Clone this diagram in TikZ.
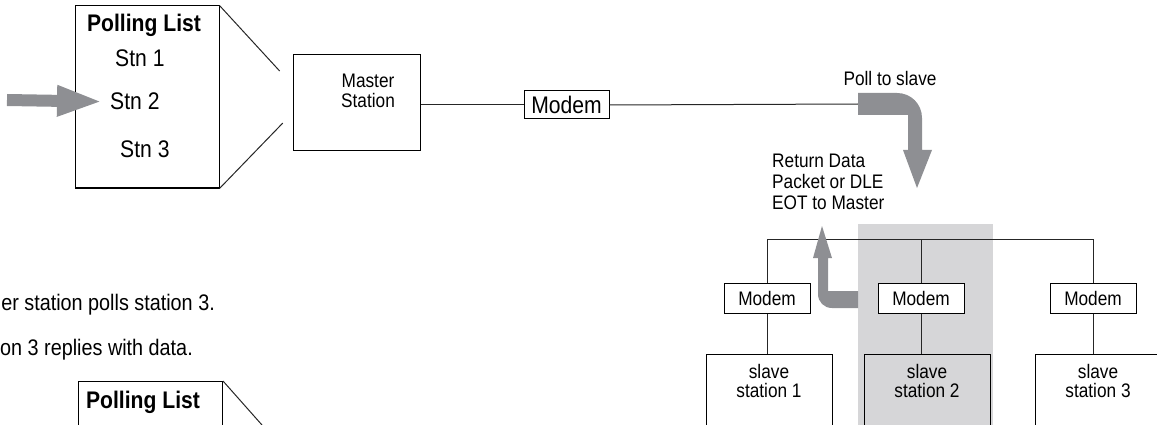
\documentclass[tikz,border=0pt]{standalone}
\usepackage{fontspec}
\setmainfont[FakeStretch=0.88]{Liberation Sans}
\usetikzlibrary{positioning, arrows.meta, calc}
\definecolor{arrowgray}{HTML}{8E8F93}
\definecolor{hlgray}{HTML}{D6D6D8}

\begin{document}
\begin{tikzpicture}[
    x=1pt, y=-1pt,
    font=\fontsize{19.6}{20}\selectfont,
    box/.style={
        draw=black, line width=1pt, rectangle, inner sep=0pt,
    },
    listbox/.style={box, minimum width=144pt, minimum height=182pt},
    master/.style={box, minimum width=127pt, minimum height=96pt},
    modem/.style={box, fill=white, minimum width=85pt, minimum height=28pt, font=\fontsize{24}{28}\selectfont},
    smodem/.style={box, fill=white, minimum width=86pt, minimum height=30pt},
    slave/.style={box, anchor=north, minimum width=126pt, minimum height=110pt},
    big/.style={font=\fontsize{24}{28}\selectfont, inner sep=0pt},
    txt/.style={inner sep=0pt, align=center},
    wire/.style={draw=black!85, line width=1pt},
    bigarrow/.style={draw=arrowgray, line width=12pt, -{Triangle[length=46pt, width=28pt]}},
    bentarrow/.style={fill=arrowgray},
]
\useasboundingbox (0,0) rectangle (1157,425);
\clip (0,0) rectangle (1157,425);

% ===== Top left: polling list and master station =====
\node[listbox] (plist) at (147,97) {};
\node[big, anchor=base] (ptitle) at (144,32) {\textbf{Polling List}};
\node[big, anchor=base west] (stn1) at (115,67) {Stn 1};
\node[big, anchor=base west] (stn2) at (110,110) {Stn 2};
\node[big, anchor=base west] (stn3) at (120,158) {Stn 3};

\coordinate (feed) at (7,100);
\draw[bigarrow, shorten >=7pt] (feed) -- (stn2.west);

\node[master] (master) at (356.5,103) {};
\node[txt] (mtext) at (368,91) {Master\\Station};

% zoom lines from the list towards the master
\draw[wire, shorten >=19pt] (plist.north east) -- ($(master.west)+(0,-18)$);
\draw[wire, shorten >=14pt] (plist.south east) -- ($(master.west)+(0,10)$);

% ===== Master modem and line out =====
\node[modem] (modem) at (566.5,105) {Modem};
\draw[wire] (modem.west -| master.east) -- (modem.west);

\coordinate (pollin) at (858,104);
\draw[wire] (modem.east) -- (pollin);

% Poll to slave (bent arrow down)
\fill[bentarrow] (858,93) -- (897,93) .. controls (911,93) and (922,104) .. (922,118)
    -- (922,150) -- (932,150) -- (917,188) -- (903,150) -- (908,150)
    -- (908,115) -- (858,115) -- cycle;
\node[txt, anchor=base] (polltxt) at (890,86) {Poll to slave};

\node[txt, align=left, anchor=north west, font=\fontsize{19.6}{21}\selectfont] (rettxt) at (772,154)
    {Return Data\\Packet or DLE\\EOT to Master};

% ===== Slave side =====
\fill[hlgray] (858,224) rectangle (993,430);

\node[smodem] (sm1) at (767,298) {Modem};
\node[smodem] (sm2) at (921,298) {Modem};
\node[smodem] (sm3) at (1093,298) {Modem};

\coordinate (bus) at (767,239);
\draw[wire] (sm1.north) -- (sm1.north |- bus) -- (sm3.north |- bus) -- (sm3.north);
\draw[wire] (sm2.north) -- (sm2.north |- bus);

\node[slave, label={[txt, anchor=north, yshift=-10pt, font=\fontsize{19.6}{19}\selectfont]north:{slave\\station 1}}] (sl1) at (769,354) {};
\node[slave, label={[txt, anchor=north, yshift=-10pt, font=\fontsize{19.6}{19}\selectfont]north:{slave\\station 2}}] (sl2) at (927,354) {};
\node[slave, label={[txt, anchor=north, yshift=-10pt, font=\fontsize{19.6}{19}\selectfont]north:{slave\\station 3}}] (sl3) at (1098,354) {};

\draw[wire] (sm1.south) -- (sm1.south |- sl1.north);
\draw[wire] (sm2.south) -- (sm2.south |- sl2.north);
\draw[wire] (sm3.south) -- (sm3.south |- sl3.north);

% Return data (bent arrow up)
\fill[bentarrow] (858,291) -- (828,291) -- (828,258) -- (832,258) -- (822,226)
    -- (813,258) -- (818,258) -- (818,294) .. controls (818,302) and (824,308) .. (832,308)
    -- (858,308) -- cycle;

% ===== Bottom left: steps and second list =====
\node[txt, anchor=base east, font=\fontsize{22.5}{26}\selectfont] (step1) at (215,310) {er station polls station 3.};
\node[txt, anchor=base east, font=\fontsize{22.5}{26}\selectfont] (step2) at (193,355) {on 3 replies with data.};

\node[listbox, anchor=north west] (plist2) at (78,381) {};
\node[big, anchor=base] (ptitle2) at (143,408) {\textbf{Polling List}};
\coordinate (cut) at (262,425);
\draw[wire] (plist2.north east) -- (cut);

\end{tikzpicture}
\end{document}
